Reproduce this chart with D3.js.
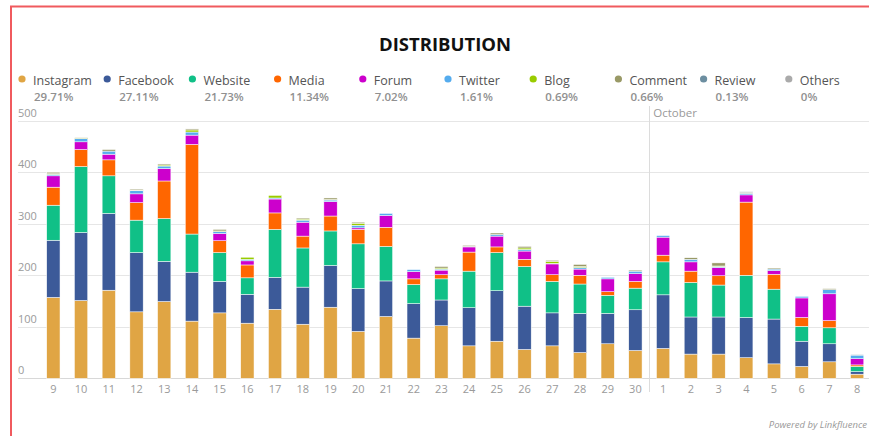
<!DOCTYPE html>
<html>
<head>
<meta charset="utf-8">
<script src="https://cdn.jsdelivr.net/npm/d3@7"></script>
<style>
  body { margin: 0; background: #fff; }
  svg { display: block; font-family: "Open Sans", sans-serif; }
</style>
</head>
<body>
<svg id="chart" width="869" height="436"></svg>
<script>
// days, September 9 -> October 8
const days = ["9","10","11","12","13","14","15","16","17","18","19","20","21","22","23","24","25","26","27","28","29","30",
              "1","2","3","4","5","6","7","8"]
const monthStart = "1"   // first day of October

const seriesNames = ["Instagram","Facebook","Website","Media","Forum","Twitter","Blog","Comment","Review","Others"]
const seriesShares = ["29.71%","27.11%","21.73%","11.34%","7.02%","1.61%","0.69%","0.66%","0.13%","0%"]
const seriesColors = ["#E0A544","#3C5A99","#10C087","#FF6600","#CC00CC","#55ACEE","#99CC00","#999966","#6C8EA0","#AAAAAA"]

const instagram = [157,151,171,129,149,111,127,107,134,105,138,91,120,78,102,63,72,56,63,50,67,54,58,47,47,40,28,23,32,8]
const facebook  = [111,132,149,115,78,95,61,56,62,72,81,83,69,67,50,74,98,84,64,76,59,79,104,72,72,78,87,49,35,5]
const website   = [68,128,73,63,83,74,56,32,93,76,67,87,67,37,41,71,74,77,61,57,35,42,64,67,62,82,58,29,31,10]
const media     = [35,33,31,34,73,174,23,25,32,23,29,28,37,11,8,37,11,14,13,17,7,13,13,22,18,142,29,17,14,3]
const forum     = [22,15,11,17,24,18,14,8,27,27,28,3,23,14,9,10,21,16,21,12,25,15,35,18,16,14,7,38,52,12]
const twitter   = [3,6,6,6,5,6,4,3,2,4,3,5,4,4,2,1,3,3,1,3,3,5,3,5,2,3,3,3,8,7]
const blog      = [1,1,0,1,2,4,1,4,5,2,1,4,0,0,2,0,0,3,4,2,0,0,0,0,1,0,0,0,0,0]
const comment   = [3,1,3,2,2,2,3,0,0,2,3,2,0,0,3,2,3,3,2,4,0,2,0,3,6,2,2,0,2,0]
const review    = [0,0,0,0,0,0,0,0,0,0,0,0,0,0,0,0,0,0,0,0,0,0,0,0,0,1,0,0,0,1]
const others    = [0,0,0,0,0,0,0,0,0,0,0,0,0,0,0,0,0,0,0,0,0,0,0,0,0,0,0,0,0,0]

const yTicks = [0,100,200,300,400,500]

const seriesValues = [instagram, facebook, website, media, forum, twitter, blog, comment, review, others]

// build rows for d3.stack
const rows = days.map((d, i) => {
    let row = { day: d }
    seriesNames.forEach((s, j) => { row[s] = seriesValues[j][i] })
    return row
})

const svg = d3.select("#chart")
const W = 869, H = 436

// red frame
svg.append("path")
    .attr("d", `M11,${H} L11,6.5 L${W},6.5`)
    .attr("fill", "none")
    .attr("stroke", "#F05A5E")
    .attr("stroke-width", 2)

// title
svg.append("text")
    .attr("x", 445)
    .attr("y", 51)
    .attr("text-anchor", "middle")
    .attr("font-size", 18.5)
    .attr("font-weight", "bold")
    .attr("fill", "#111")
    .text("DISTRIBUTION")

// legend
const legend = svg.selectAll(".legend-item")
    .data(seriesNames)
    .enter()
    .append("g")
    .attr("class", "legend-item")
    .attr("transform", (d, i) => `translate(${22 + i * 85.2}, 0)`)
legend.append("circle")
    .attr("cx", 0)
    .attr("cy", 79)
    .attr("r", 3.6)
    .attr("fill", (d, i) => seriesColors[i])
legend.append("text")
    .attr("x", 11)
    .attr("y", 85)
    .attr("font-size", 12.5)
    .attr("fill", "#555")
    .text(d => d)
legend.append("text")
    .attr("x", 12)
    .attr("y", 101)
    .attr("font-size", 11.5)
    .attr("font-weight", 600)
    .attr("fill", "#909090")
    .text((d, i) => seriesShares[i])

// scales
const x = d3.scaleBand()
    .domain(days)
    .range([39.5, 871])
    .paddingInner(0.52)
    .paddingOuter(0.26)
const y = d3.scaleLinear()
    .domain([0, 500])
    .range([378.3, 120.7])

// grid + y labels
const grid = svg.append("g")
grid.selectAll("line")
    .data(yTicks)
    .enter()
    .append("line")
    .attr("x1", 18)
    .attr("x2", W)
    .attr("y1", d => Math.round(y(d)) + 0.5)
    .attr("y2", d => Math.round(y(d)) + 0.5)
    .attr("stroke", d => d === 0 ? "#d8d8d8" : "#e6e6e6")
grid.selectAll("text")
    .data(yTicks)
    .enter()
    .append("text")
    .attr("x", 18)
    .attr("y", d => y(d) - 4)
    .attr("font-size", 11)
    .attr("fill", "#9a9a9a")
    .text(d => d)

// October separator
const sepX = x(monthStart) - x.step() * x.paddingInner() / 2
svg.append("line")
    .attr("x1", Math.round(sepX) + 0.5)
    .attr("x2", Math.round(sepX) + 0.5)
    .attr("y1", 106)
    .attr("y2", 392)
    .attr("stroke", "#dcdcdc")
svg.append("text")
    .attr("x", sepX + 4)
    .attr("y", 117)
    .attr("font-size", 11.5)
    .attr("fill", "#9a9a9a")
    .text("October")

// stacked bars
const stacked = d3.stack().keys(seriesNames)(rows)
svg.append("g")
    .selectAll("g")
    .data(stacked)
    .enter()
    .append("g")
    .attr("fill", (d, i) => seriesColors[i])
    .selectAll("rect")
    .data(d => d.filter(s => s[1] > s[0]))
    .enter()
    .append("rect")
    .attr("x", d => x(d.data.day))
    .attr("width", x.bandwidth())
    .attr("y", d => y(d[1]))
    .attr("height", d => y(d[0]) - y(d[1]))
    .attr("stroke", "#fff")
    .attr("stroke-width", 0.5)

// x labels
const xAxis = d3.axisBottom(x).tickSize(0).tickPadding(7)
const xg = svg.append("g")
    .attr("transform", `translate(0, ${y(0)})`)
    .call(xAxis)
xg.select(".domain").remove()
xg.selectAll("text")
    .attr("font-family", "Open Sans, sans-serif")
    .attr("font-size", 11)
    .attr("fill", "#9a9a9a")

// credits
svg.append("text")
    .attr("x", 867)
    .attr("y", 428)
    .attr("text-anchor", "end")
    .attr("font-size", 9.5)
    .attr("font-style", "italic")
    .attr("fill", "#999")
    .text("Powered by Linkfluence")
</script>
</body>
</html>
